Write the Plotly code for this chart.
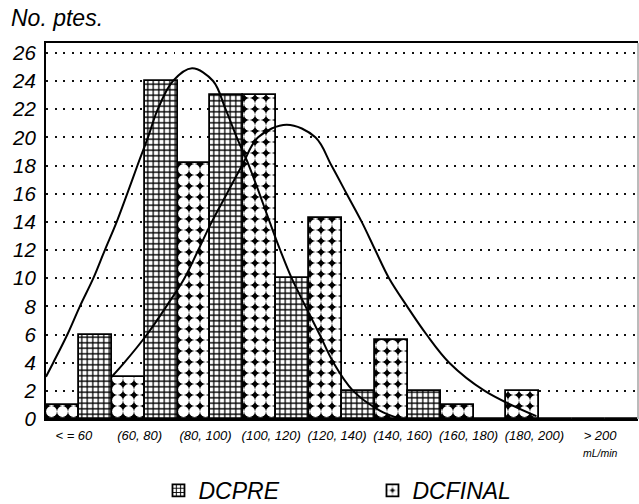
import plotly.graph_objects as go

# Flow classes (mL/min) and patient counts per class
categories = ["< = 60", "(60, 80)", "(80, 100)", "(100, 120)", "(120, 140)",
              "(140, 160)", "(160, 180)", "(180, 200)", "> 200"]
tick_labels = ["< = 60", "(60, 80)", "(80, 100)", "(100, 120)", "(120, 140)",
               "(140, 160)", "(160, 180)", "(180, 200)",
               "> 200<br><span style='font-size:10.5px'>mL/min</span>"]
dcfinal = [1, 3, 18.2, 23, 14.3, 5.6, 1, 2, 0]
dcpre = [6, 24, 23, 10, 2, 2, 0, 0, 0]

# Fitted distribution curves (flow in mL/min, count)
pre_curve_x = [40, 42.2, 46.5, 50.3, 54.4, 57.9, 61.5, 64.7, 67.8, 71.0, 74.0, 78.6,
               84.4, 90.8, 94.6, 98.0, 101.7, 104.9, 108.0, 111.2, 114.7, 118.9,
               123.2, 127.4, 133.4, 141.5, 146.7]
pre_curve_y = [3.0, 4, 6, 8, 10, 12, 14, 16, 18, 20, 22, 24,
               24.9, 24, 22, 20, 18, 16, 14, 12, 10, 8,
               6, 4, 2, 0.6, 0.1]
final_curve_x = [60, 63.8, 70.7, 76.6, 82.1, 86.3, 90.4, 95.0, 99.6, 104.5, 113.2,
                 121.9, 126.8, 131.4, 136.0, 140.1, 144.3, 149.8, 155.7, 162.6,
                 173.4, 189.1]
final_curve_y = [3.0, 4, 6, 8, 10, 12, 14, 16, 18, 20, 20.9,
                 20, 18, 16, 14, 12, 10, 8, 6, 4,
                 2, 0.2]

y_ticks = list(range(0, 27, 2))

FONT = "Liberation Sans, Arial, sans-serif"

fig = go.Figure()

fig.add_trace(go.Bar(
    x=categories, y=dcfinal, name="DCFINAL",
    marker=dict(
        color="black",
        line=dict(color="black", width=1.8),
        pattern=dict(shape=".", bgcolor="black", fgcolor="white", fgopacity=1,
                     size=11, solidity=0.765, fillmode="replace"),
    ),
    hoverinfo="skip",
))
fig.add_trace(go.Bar(
    x=categories, y=dcpre, name="DCPRE",
    marker=dict(
        color="white",
        line=dict(color="black", width=1.8),
        pattern=dict(shape="+", bgcolor="white", fgcolor="black", fgopacity=1,
                     size=5.5, solidity=0.4, fillmode="replace"),
    ),
    hoverinfo="skip",
))

for cx, cy in ((pre_curve_x, pre_curve_y), (final_curve_x, final_curve_y)):
    fig.add_trace(go.Scatter(
        x=cx, y=cy, xaxis="x2", yaxis="y", mode="lines",
        line=dict(color="black", width=2, shape="spline", smoothing=1.0),
        showlegend=False, hoverinfo="skip",
    ))

fig.update_layout(
    width=639, height=504,
    margin=dict(l=46, r=1, t=43, b=85, autoexpand=False),
    paper_bgcolor="white", plot_bgcolor="white",
    font=dict(family=FONT, style="italic", color="black"),
    barmode="group", bargap=0, bargroupgap=0,
    showlegend=True,
    legend=dict(
        orientation="h", traceorder="reversed",
        x=0.19, xanchor="left", y=-0.19, yanchor="middle",
        font=dict(size=23, family=FONT, style="italic"),
        entrywidth=169, entrywidthmode="pixels",
        bgcolor="rgba(0,0,0,0)",
    ),
    xaxis=dict(
        type="category", range=[-0.5, 8.5],
        tickmode="array", tickvals=categories, ticktext=tick_labels,
        tickfont=dict(size=13, family=FONT, style="italic"),
        showline=True, linecolor="black", linewidth=2,
        showgrid=False, zeroline=False, ticks="",
        ticklabelshift=-5, ticklabelstandoff=3,
    ),
    xaxis2=dict(
        overlaying="x", side="top", range=[40, 220],
        showline=True, linecolor="black", linewidth=2,
        showticklabels=False, showgrid=False, zeroline=False, ticks="",
    ),
    yaxis=dict(
        range=[0, 26.7], tickmode="array", tickvals=y_ticks,
        tickfont=dict(size=20.5, family=FONT, style="italic"),
        showgrid=True, gridcolor="#111111", gridwidth=1.5, griddash="2px,6.5px",
        zeroline=False, showline=True, linecolor="black", linewidth=2,
        ticks="", ticklabelstandoff=4,
    ),
    shapes=[dict(type="line", xref="paper", yref="paper", x0=1, x1=1, y0=0, y1=1,
                 line=dict(color="#777777", width=1))],
    annotations=[dict(
        text="No. ptes.", xref="paper", yref="paper",
        x=-0.063, y=1.066, xanchor="left", yanchor="middle",
        showarrow=False, font=dict(size=23, family=FONT, style="italic"),
    )],
)

fig.write_html("out.html")
